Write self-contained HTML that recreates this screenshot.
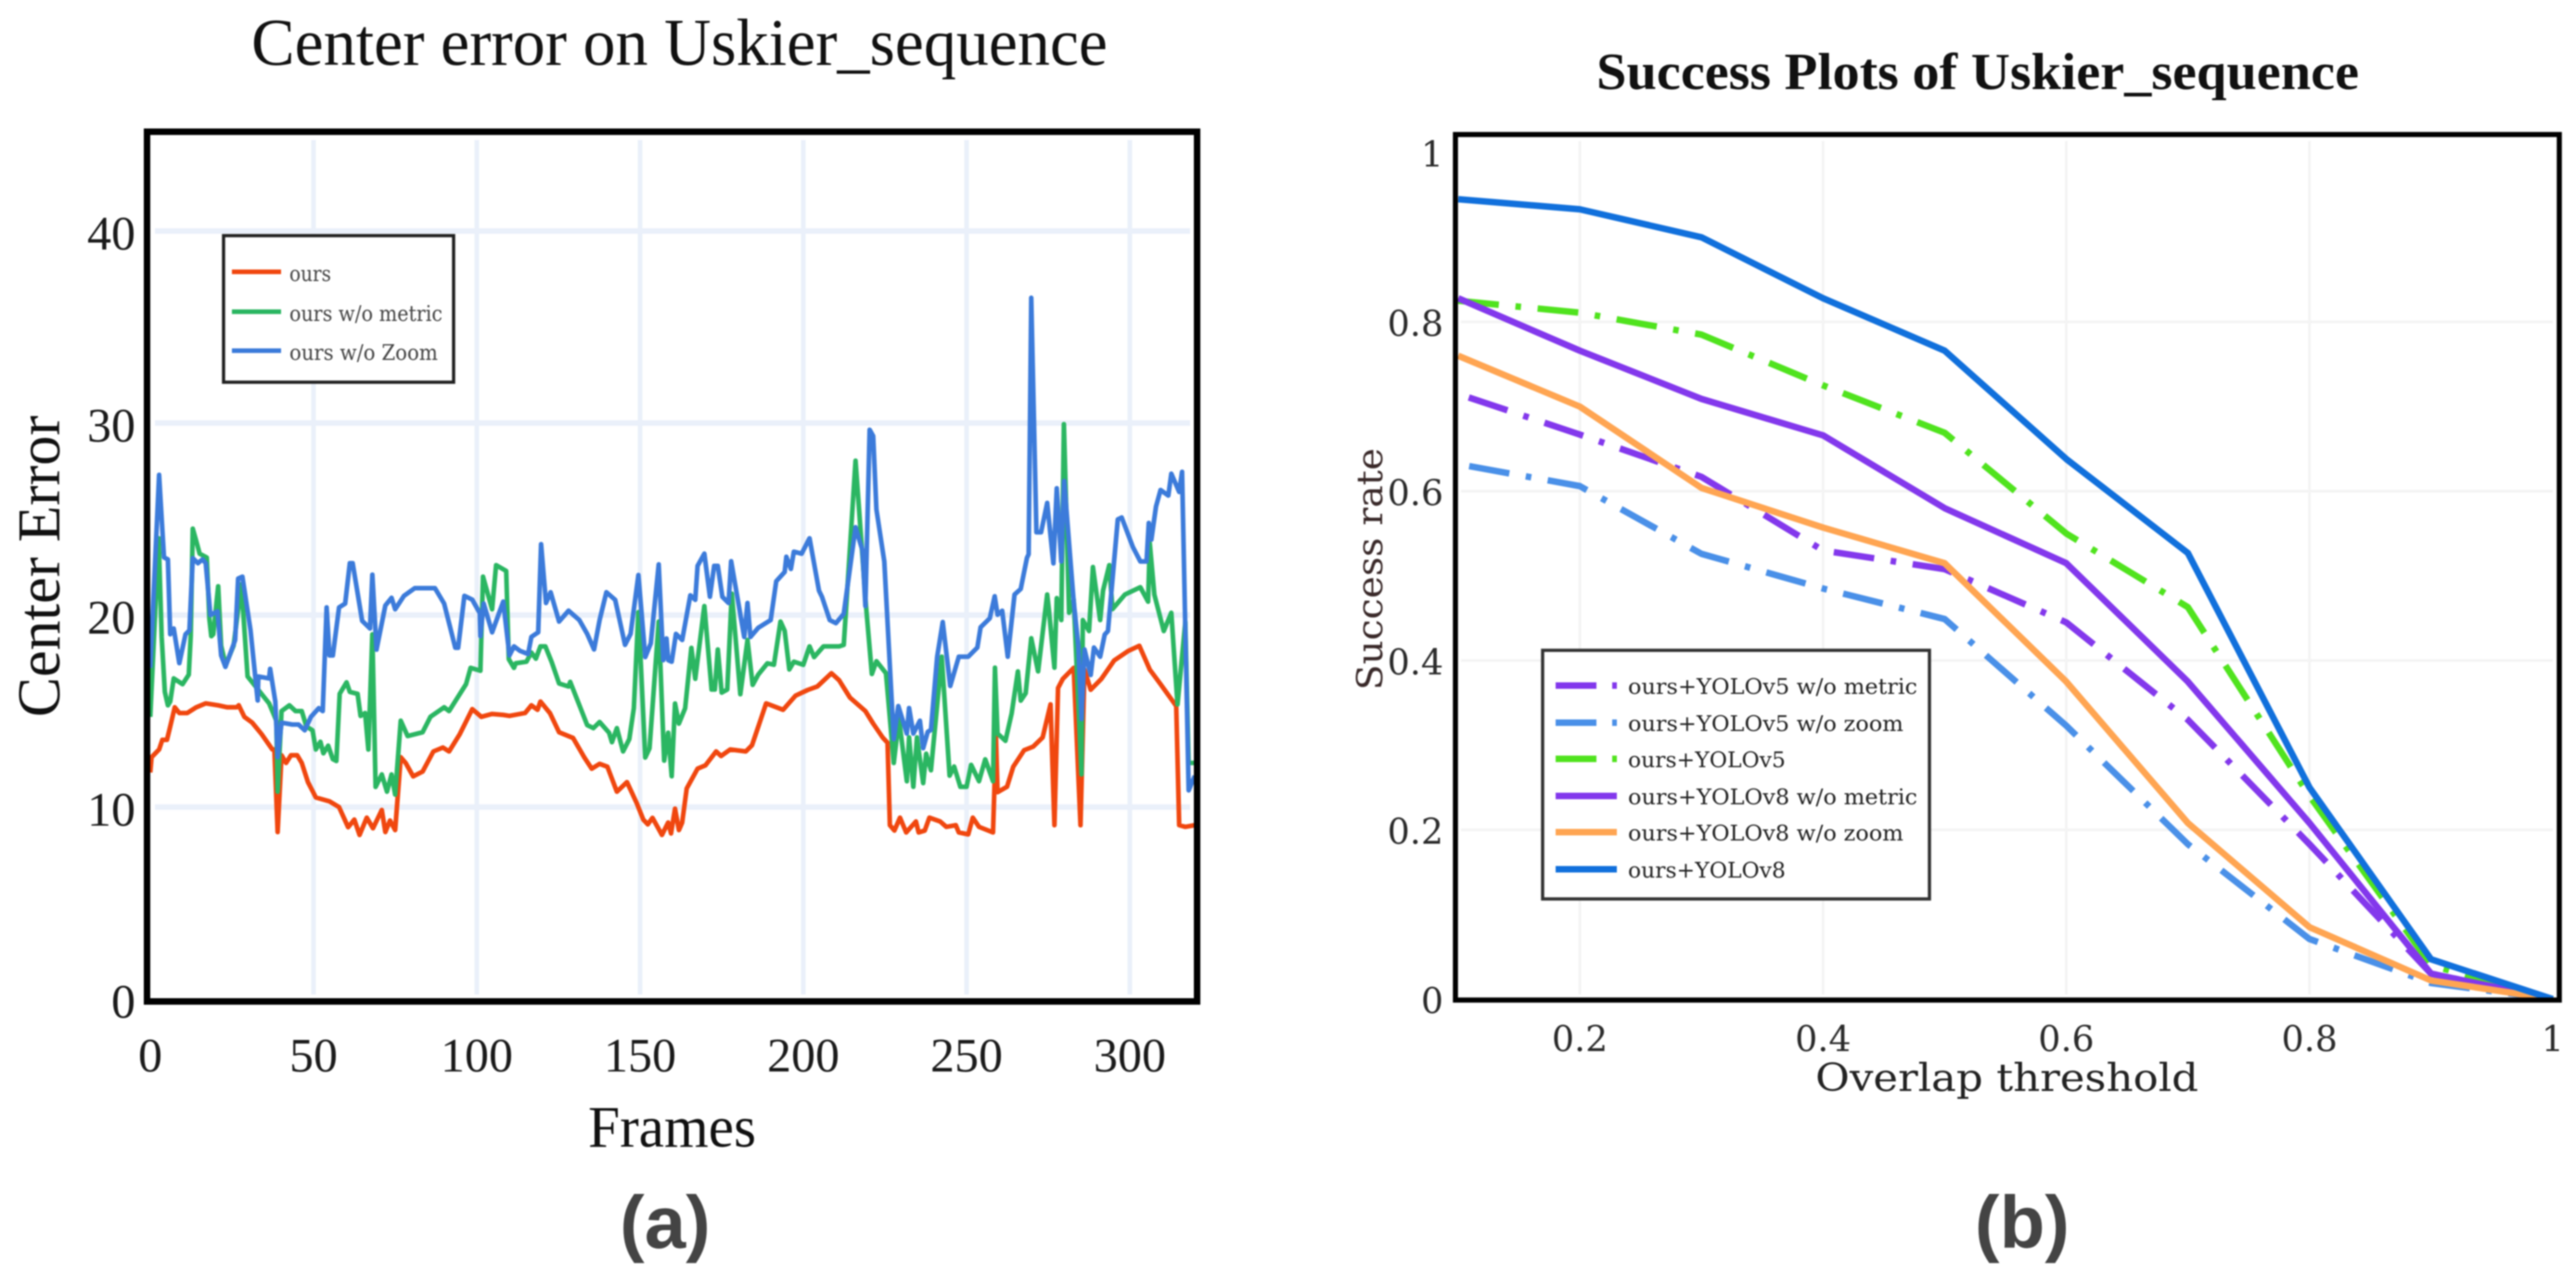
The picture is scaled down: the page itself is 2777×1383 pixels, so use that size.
<!DOCTYPE html>
<html lang="en">
<head>
<meta charset="utf-8">
<title>Center error and success plots on Uskier_sequence</title>
<style>
  html, body { margin: 0; padding: 0; background: #fff; }
  body { width: 2777px; height: 1383px; overflow: hidden; }
  svg { display: block; filter: blur(0.9px); }
  .lib { font-family: "Liberation Serif", serif; }
  .dj { font-family: "DejaVu Serif", "Liberation Serif", serif; }
  .cap { font-family: "Liberation Sans", sans-serif; font-weight: 700; fill: #444; font-size: 80px; }
</style>
</head>
<body>
<svg id="figure" xmlns="http://www.w3.org/2000/svg" width="2777" height="1383" viewBox="0 0 2777 1383">
  <rect x="0" y="0" width="2777" height="1383" fill="#fff"/>

  <!-- LEFT CHART -->
  <g id="left-chart">
    <text class="lib" x="271" y="70" font-size="72" fill="#111" textLength="923" lengthAdjust="spacingAndGlyphs">Center error on Uskier_sequence</text>
    <g id="left-grid"></g>
    <path id="line-ours" fill="none" stroke="#F0470F" stroke-width="5" stroke-linejoin="round"/>
    <path id="line-metric" fill="none" stroke="#2BB662" stroke-width="5" stroke-linejoin="round"/>
    <path id="line-zoom" fill="none" stroke="#3C7BDA" stroke-width="5" stroke-linejoin="round"/>
    <rect x="158.5" y="142" width="1132" height="937.5" fill="none" stroke="#000" stroke-width="7"/>
    <g id="left-ticks"></g>
    <text class="lib" transform="translate(64,773) rotate(-90)" x="0" y="0" font-size="66" fill="#111" textLength="325" lengthAdjust="spacingAndGlyphs">Center Error</text>
    <text class="lib" x="634" y="1236" font-size="64" fill="#111" textLength="181" lengthAdjust="spacingAndGlyphs">Frames</text>

    <g>
      <rect x="241" y="254" width="248" height="158" fill="#fff" stroke="#222" stroke-width="3.5"/>
      <g>
        <line x1="250" y1="293" x2="303" y2="293" stroke="#F0470F" stroke-width="5"/>
        <text class="dj" x="312" y="303" font-size="23" fill="#444" textLength="45" lengthAdjust="spacingAndGlyphs">ours</text>
      </g>
      <g>
        <line x1="250" y1="336" x2="303" y2="336" stroke="#2BB662" stroke-width="5"/>
        <text class="dj" x="312" y="346" font-size="23" fill="#444" textLength="165" lengthAdjust="spacingAndGlyphs">ours w/o metric</text>
      </g>
      <g>
        <line x1="250" y1="378" x2="303" y2="378" stroke="#3C7BDA" stroke-width="5"/>
        <text class="dj" x="312" y="388" font-size="23" fill="#444" textLength="160" lengthAdjust="spacingAndGlyphs">ours w/o Zoom</text>
      </g>
    </g>
  </g>

  <!-- RIGHT CHART -->
  <g id="right-chart">
    <text class="lib" x="1721" y="96" font-size="56" font-weight="700" fill="#111" textLength="822" lengthAdjust="spacingAndGlyphs">Success Plots of Uskier_sequence</text>
    <g id="right-grid"></g>
    <path id="line-v5-metric" fill="none" stroke="#8338EC" stroke-width="7" stroke-linejoin="round" stroke-dasharray="44 18 6 18" stroke-dashoffset="74"/>
    <path id="line-v5-zoom" fill="none" stroke="#4A90E8" stroke-width="7" stroke-linejoin="round" stroke-dasharray="44 18 6 18" stroke-dashoffset="74"/>
    <path id="line-v5" fill="none" stroke="#50E31E" stroke-width="7" stroke-linejoin="round" stroke-dasharray="44 18 6 18"/>
    <path id="line-v8-metric" fill="none" stroke="#8338EC" stroke-width="7" stroke-linejoin="round"/>
    <path id="line-v8-zoom" fill="none" stroke="#FFA552" stroke-width="7" stroke-linejoin="round"/>
    <path id="line-v8" fill="none" stroke="#1170DC" stroke-width="7" stroke-linejoin="round"/>
    <rect x="1569" y="145" width="1190" height="933" fill="none" stroke="#000" stroke-width="5.5"/>
    <g id="right-ticks"></g>
    <text class="dj" transform="translate(1490,744) rotate(-90)" x="0" y="0" font-size="38" fill="#3a2a2a" textLength="261" lengthAdjust="spacingAndGlyphs">Success rate</text>
    <text class="dj" x="1957" y="1176" font-size="41" fill="#222" textLength="413" lengthAdjust="spacingAndGlyphs">Overlap threshold</text>

    <g>
      <rect x="1663" y="701" width="417" height="268" fill="#fff" stroke="#333" stroke-width="3.5"/>
      <g>
        <line x1="1677" y1="739" x2="1743" y2="739" stroke="#8338EC" stroke-width="7" stroke-dasharray="44 17 5 18"/>
        <text class="dj" x="1755" y="748" font-size="23" fill="#222" textLength="312" lengthAdjust="spacingAndGlyphs">ours+YOLOv5 w/o metric</text>
      </g>
      <g>
        <line x1="1677" y1="779" x2="1743" y2="779" stroke="#4A90E8" stroke-width="7" stroke-dasharray="44 17 5 18"/>
        <text class="dj" x="1755" y="788" font-size="23" fill="#222" textLength="297" lengthAdjust="spacingAndGlyphs">ours+YOLOv5 w/o zoom</text>
      </g>
      <g>
        <line x1="1677" y1="818" x2="1743" y2="818" stroke="#50E31E" stroke-width="7" stroke-dasharray="44 17 5 18"/>
        <text class="dj" x="1755" y="827" font-size="23" fill="#222" textLength="170" lengthAdjust="spacingAndGlyphs">ours+YOLOv5</text>
      </g>
      <g>
        <line x1="1677" y1="858" x2="1743" y2="858" stroke="#8338EC" stroke-width="7"/>
        <text class="dj" x="1755" y="867" font-size="23" fill="#222" textLength="312" lengthAdjust="spacingAndGlyphs">ours+YOLOv8 w/o metric</text>
      </g>
      <g>
        <line x1="1677" y1="897" x2="1743" y2="897" stroke="#FFA552" stroke-width="7"/>
        <text class="dj" x="1755" y="906" font-size="23" fill="#222" textLength="297" lengthAdjust="spacingAndGlyphs">ours+YOLOv8 w/o zoom</text>
      </g>
      <g>
        <line x1="1677" y1="937" x2="1743" y2="937" stroke="#1170DC" stroke-width="7"/>
        <text class="dj" x="1755" y="946" font-size="23" fill="#222" textLength="170" lengthAdjust="spacingAndGlyphs">ours+YOLOv8</text>
      </g>
    </g>
  </g>

  <text class="cap" x="717" y="1345" text-anchor="middle">(a)</text>
  <text class="cap" x="2180" y="1345" text-anchor="middle">(b)</text>
</svg>

<script>
// ---- Left chart data ----
const leftXTicks = [0, 50, 100, 150, 200, 250, 300];
const leftYTicks = [0, 10, 20, 30, 40];

const oursFrames = [0,0.4,2.7,3.7,5.1,6.1,7.5,8.9,11.3,14.1,17,20.8,23.6,26.5,27.1,28.8,31.2,34.1,37.4,38,39,40.2,41.6,43.1,45,46.4,48.3,50.7,54.9,57.8,60.6,62.5,64.1,66.3,68.2,70.9,72,73.4,75,76.7,78.2,80.5,83.4,86.7,89.6,91.5,94.8,98.6,101.4,104.7,108.1,
110,114.8,116.7,118.6,119.5,122.4,125.2,129.5,132.9,135.2,137.6,140,142.9,146,149,151,152.4,153.8,156.7,158.6,159.5,160.7,161.9,162.9,164.3,167.6,170,173.3,174.8,177.6,182.4,184.3,188.6,193.8,197.6,201.4,204.3,208.6,211,214.3,219,221.4,224.3,
225.8,226.5,227.9,229.6,231.5,234.5,235.3,237.2,238.6,241.9,243.8,246.7,247.6,250.5,251.9,253.8,258.1,259,259.5,262.4,264.3,267.6,270.4,273.3,275.7,276.9,278,279.5,282.8,284.9,286.1,288,291.3,295.2,299.4,302.9,306.1,309.4,314.2,315.1,317,319.9];
const oursValues = [11.8,12.6,13,13.5,13.5,14.2,15.2,14.9,14.9,15.2,15.4,15.3,15.2,15.2,15.3,14.7,14.4,13.8,13,13,8.7,12.7,12.3,12.7,12.7,12.3,11.3,10.5,10.3,10,8.95,9.35,8.55,9.45,8.9,9.85,8.7,9.3,8.8,12.6,12.3,11.6,11.85,12.9,13.1,12.9,13.8,15.1,14.7,14.85,14.8,
14.75,14.9,15.3,15.07,15.5,14.9,13.9,13.6,12.6,12,12.25,12.1,10.8,11.3,10.2,9.35,9.1,9.44,8.55,9.2,8.63,9.92,8.8,9.2,10.97,12,12.17,12.9,12.66,13,12.9,13.22,15.4,15.07,15.8,16.1,16.28,16.97,16.6,15.7,15,14.35,13.63,
13.35,9.06,8.78,9.45,8.68,9.25,8.68,8.78,9.45,9.25,8.97,9.06,8.68,8.58,9.45,8.97,8.68,13.63,10.78,11.06,12.1,12.96,13.15,13.63,15.35,9.06,16.2,16.68,17.25,9.06,17.16,16.11,16.68,17.64,18.12,18.4,17.16,16.4,15.26,9.06,8.97,9.06];

const metricFrames = [0,2.55,3.5,4.45,5.4,6.1,7.2,9.9,11.8,12.4,13,14.1,15.1,17.3,18.1,18.7,19.3,20.8,21.7,23.1,25.5,27.9,29.8,33.1,36.4,38.6,39,40.2,42.6,44.5,46.4,47.8,49.7,50.7,52.1,53,54.5,55.9,57,58,60.1,61.1,63.5,64.4,65.8,66.8,68,69,70.9,72.5,73.9,75,76.7,78.8,83.4,85.8,90,91.5,96.7,98.1,101.1,101.9,104.7,105.9,109,109.8,111.4,
111.9,115.2,116.7,118.1,119.5,121,122.9,125.2,128.1,128.6,133.8,135.7,137.6,140.5,141.4,142.9,144.8,146.7,148.1,149.5,151.6,152.9,155.7,157.4,158.6,159.7,160.7,161.9,163.8,165.7,166.9,169.7,171.9,172.9,173.8,175,176.7,178.1,180.7,182.9,184.5,186.2,189,191,193,194.3,195.7,197.1,200,201.9,203.3,206.2,211,212.4,216,219.2,221,222.4,
225.3,227.7,229.3,231.7,232.4,233.7,234.8,236.7,237.6,239.1,242.4,244.8,246.2,248.1,250,251.4,253.8,255.7,258.1,258.7,259.5,261.9,263.8,265.7,266.6,268.1,269.8,271.9,274.7,275.2,276.9,277.6,279,279.8,281.4,282.8,285.2,285.6,287.5,288.7,290.9,291.8,293.7,294.7,298.5,303.2,305.6,306.1,307.5,310.4,312.7,314.6,317,318,319.9];
const metricValues = [14.7,24,18.86,16,15.3,15.5,16.7,16.4,16.9,18.9,24.5,23.85,23.2,23,19.8,18.9,19,21.5,18.4,17.4,18.4,21.6,16.8,16.1,15.4,14.5,10.8,15,15.3,15,15,14.2,14,13,13.4,12.8,13.2,12.5,12.4,15.9,16.5,16,15.9,14.75,14.9,13,19,11.05,11.7,10.8,11.7,10.65,14.5,13.7,13.9,14.7,15.2,15,16.4,17.25,17.1,22,20.3,22.6,22.3,17.7,17.25,
17.49,17.57,18.05,17.73,18.37,18.37,17.57,16.44,16.28,16.52,14.27,14.11,14.43,13.87,13.38,14.11,12.9,13.54,15.15,20.15,12.58,13.06,19.66,12.42,13.87,11.61,15.39,14.35,15.15,18.29,16.68,20.47,16.12,16.12,18.21,15.96,16.12,21.11,15.88,18.7,16.36,16.9,17.49,17.41,19.66,19.18,17.17,17.57,17.41,18.37,17.81,18.37,18.37,18.45,28.04,20.47,16.93,17.6,
16.97,12.3,14.6,11.35,13.63,11.06,13.63,11.25,12.78,11.92,17.83,11.64,12.11,11.06,11.06,12.2,11.35,12.49,11.35,17.26,13.83,13.45,14.88,17.07,15.54,15.93,18.79,17.07,21.07,20.31,17.26,20.88,19.74,29.94,20.12,20.79,11.7,19.74,19.17,22.5,19.74,21.27,22.6,20.31,21.07,21.45,20.7,23.74,21.07,19.17,20.12,15.35,19.64,12.3,12.3];

const zoomFrames = [0,2.7,4.2,5.4,6.1,7.2,8.9,10.8,12,13,14.6,16,17,18.4,20.6,21.7,23,26,26.9,28.2,30.7,32.9,33.1,36.4,36.7,38.3,39,40.2,43.5,45.4,47.3,49.2,51.6,52.8,54,54.9,55.9,57.8,59.7,61.1,62,64.9,67.3,68,69.3,72,73.9,75,77.7,81,87.2,90,93.4,94.3,96.2,98.6,100.9,101.1,102.1,104.7,108.1,110,
111.4,113.3,115.7,116.7,118.8,119.7,121.2,122.6,125.2,128.1,131.4,133.8,135.9,137.6,139.7,142.4,145.4,147.1,149.5,151.6,153.3,155.7,157.1,158.1,158.6,159.7,161,162.9,165.4,166.9,167.6,169.7,171.4,172.7,173.8,175.2,177.1,177.9,181.9,182.9,183.8,186.2,190,191.7,194.3,194.8,196.2,197.1,199.5,201.9,204.8,205.7,208.1,210,212.4,216,218.1,219,220.3,221.4,222.4,
224.8,227.7,229.1,231.7,232.4,233.7,235.7,236.7,238.1,239.1,241,242.7,245,247.6,250.5,253.3,254.3,257.1,258.6,259.5,260.9,262.6,264.7,266.6,268.5,269,269.8,271.4,272.8,274.7,276.6,277.6,279,279.9,282.8,284.2,285.2,286.1,288,289,290.9,292.3,293.3,296.3,297.5,300.9,303.2,305.1,305.8,306.6,308,309.4,311.8,312.7,315.1,316,318,319.9];
const zoomValues = [17.25,27.3,23,22.9,19,19.3,17.5,19,19.2,22.96,22.7,22.9,22.7,20,20.2,17.9,17.3,18.7,21.9,22,19.2,15.55,16.8,16.7,17.2,15.5,12.6,14.4,14.3,14.3,14,14.7,15.15,15,20.4,17.9,17.9,20.4,20.6,22.7,22.7,19.7,19.3,22.1,18.2,20.5,20.9,20.3,21,21.4,21.4,20.6,18.3,18.3,21,20.8,20.1,18.9,20.6,19.1,20.7,17.9,
18.37,18.13,17.97,18.86,19.1,23.69,20.63,21.19,19.66,20.23,19.74,19.02,18.21,19.74,21.19,20.79,18.45,19.02,22.08,17.81,18.53,22.64,17.65,18.78,17.65,17.57,19.02,18.7,21.03,20.79,22.56,23.2,20.95,22.56,22.56,20.95,20.63,22.8,18.86,20.63,18.86,19.34,19.74,21.76,22.24,23.04,22.4,23.3,23.2,24,21.27,20.95,19.74,19.58,20.07,24.57,23.37,20.47,29.65,29.32,25.5,
22.79,13.54,15.26,13.83,15.16,13.83,14.5,13.07,13.92,14.02,17.83,19.64,16.31,17.83,17.83,18.31,19.36,19.83,20.98,20.02,20.22,17.83,21.07,21.36,22.98,23.17,36.52,24.31,24.31,25.84,22.69,26.6,22.79,26.98,20.69,18.4,14.59,18.21,16.88,18.31,17.83,18.98,19.17,24.98,25.08,23.55,22.79,22.79,24.79,23.93,25.65,26.51,26.22,27.36,26.41,27.46,10.87,11.63];

// ---- Right chart data ----
const rightThresholds = [0.1, 0.2, 0.3, 0.4, 0.5, 0.6, 0.7, 0.8, 0.9, 1];
const rightXTicks = [0.2, 0.4, 0.6, 0.8, 1];
const rightYTicks = [0, 0.2, 0.4, 0.6, 0.8, 1];
const yolov5MetricValues = [0.715, 0.667, 0.617, 0.53, 0.508, 0.445, 0.33, 0.183, 0.03, 0];
const yolov5ZoomValues = [0.632, 0.606, 0.526, 0.485, 0.449, 0.323, 0.183, 0.071, 0.019, 0];
const yolov5Values = [0.825, 0.811, 0.785, 0.725, 0.669, 0.55, 0.463, 0.24, 0.04, 0];
const yolov8MetricValues = [0.828, 0.766, 0.709, 0.666, 0.58, 0.515, 0.375, 0.208, 0.03, 0];
const yolov8ZoomValues = [0.76, 0.7, 0.604, 0.557, 0.515, 0.375, 0.208, 0.085, 0.022, 0];
const yolov8Values = [0.945, 0.933, 0.9, 0.828, 0.766, 0.638, 0.527, 0.25, 0.047, 0];

// ---- Axis functions ----
function leftX(f) { return 162 + 3.52 * f; }
function leftY(v) { return 1077 - 20.7 * v; }
function rightX(t) { return 1572 + (t - 0.1) * 1311; }
function rightY(v) { return 1077 - 912.5 * v; }

const SVGNS = 'http://www.w3.org/2000/svg';
function make(tag, parent) {
  const el = document.createElementNS(SVGNS, tag);
  parent.appendChild(el);
  return el;
}
function pathFrom(xs, ys, fx, fy) {
  return xs.map(function (x, i) {
    return (i ? 'L' : 'M') + fx(x).toFixed(1) + ' ' + fy(ys[i]).toFixed(1);
  }).join(' ');
}
function hasLen(xs, ys) { return Math.min(xs.length, ys.length); }

document.getElementById('line-ours').setAttribute('d', pathFrom(oursFrames.slice(0, hasLen(oursFrames, oursValues)), oursValues, leftX, leftY));
document.getElementById('line-metric').setAttribute('d', pathFrom(metricFrames.slice(0, hasLen(metricFrames, metricValues)), metricValues, leftX, leftY));
document.getElementById('line-zoom').setAttribute('d', pathFrom(zoomFrames.slice(0, hasLen(zoomFrames, zoomValues)), zoomValues, leftX, leftY));
document.getElementById('line-v5-metric').setAttribute('d', pathFrom(rightThresholds, yolov5MetricValues, rightX, rightY));
document.getElementById('line-v5-zoom').setAttribute('d', pathFrom(rightThresholds, yolov5ZoomValues, rightX, rightY));
document.getElementById('line-v5').setAttribute('d', pathFrom(rightThresholds, yolov5Values, rightX, rightY));
document.getElementById('line-v8-metric').setAttribute('d', pathFrom(rightThresholds, yolov8MetricValues, rightX, rightY));
document.getElementById('line-v8-zoom').setAttribute('d', pathFrom(rightThresholds, yolov8ZoomValues, rightX, rightY));
document.getElementById('line-v8').setAttribute('d', pathFrom(rightThresholds, yolov8Values, rightX, rightY));

// Left grid and ticks
const leftGrid = document.getElementById('left-grid');
const leftTicks = document.getElementById('left-ticks');
leftXTicks.forEach(function (t) {
  if (t > 0) {
    const g = make('line', leftGrid);
    
    
    g.setAttribute('x1', leftX(t));
    g.setAttribute('x2', leftX(t));
    g.setAttribute('y1', 151);
    g.setAttribute('y2', 1072);
    g.setAttribute('stroke', '#EAF0FA');
    g.setAttribute('stroke-width', 5);
  }
  const l = make('text', leftTicks);
  
  
  l.setAttribute('class', 'lib');
  l.setAttribute('x', leftX(t));
  l.setAttribute('y', 1155);
  l.setAttribute('font-size', 52);
  l.setAttribute('fill', '#1a1a1a');
  l.setAttribute('text-anchor', 'middle');
  l.textContent = String(t);
});
leftYTicks.forEach(function (t) {
  if (t > 0) {
    const g = make('line', leftGrid);
    
    
    g.setAttribute('x1', 167);
    g.setAttribute('x2', 1283);
    g.setAttribute('y1', leftY(t));
    g.setAttribute('y2', leftY(t));
    g.setAttribute('stroke', '#EAF0FA');
    g.setAttribute('stroke-width', 6);
  }
  const l = make('text', leftTicks);
  
  
  l.setAttribute('class', 'lib');
  l.setAttribute('x', 146);
  l.setAttribute('y', leftY(t) + 20);
  l.setAttribute('font-size', 52);
  l.setAttribute('fill', '#1a1a1a');
  l.setAttribute('text-anchor', 'end');
  l.textContent = String(t);
});

// Right grid and ticks
const rightGrid = document.getElementById('right-grid');
const rightTicks = document.getElementById('right-ticks');
rightXTicks.forEach(function (t) {
  if (t < 1) {
    const g = make('line', rightGrid);
    
    
    g.setAttribute('x1', rightX(t));
    g.setAttribute('x2', rightX(t));
    g.setAttribute('y1', 152);
    g.setAttribute('y2', 1072);
    g.setAttribute('stroke', '#F4F4F4');
    g.setAttribute('stroke-width', 3);
  }
  const l = make('text', rightTicks);
  
  
  l.setAttribute('class', 'dj');
  l.setAttribute('x', rightX(t));
  l.setAttribute('y', 1133);
  l.setAttribute('font-size', 38);
  l.setAttribute('fill', '#2b2b2b');
  l.setAttribute('text-anchor', 'middle');
  l.textContent = String(t);
});
rightYTicks.forEach(function (t) {
  if (t > 0 && t < 1) {
    const g = make('line', rightGrid);
    
    
    g.setAttribute('x1', 1575);
    g.setAttribute('x2', 2752);
    g.setAttribute('y1', rightY(t));
    g.setAttribute('y2', rightY(t));
    g.setAttribute('stroke', '#F4F4F4');
    g.setAttribute('stroke-width', 3);
  }
  const l = make('text', rightTicks);
  
  
  l.setAttribute('class', 'dj');
  l.setAttribute('x', 1556);
  l.setAttribute('y', rightY(t) + 15);
  l.setAttribute('font-size', 38);
  l.setAttribute('fill', '#2b2b2b');
  l.setAttribute('text-anchor', 'end');
  l.textContent = String(t);
});
</script>
</body>
</html>
